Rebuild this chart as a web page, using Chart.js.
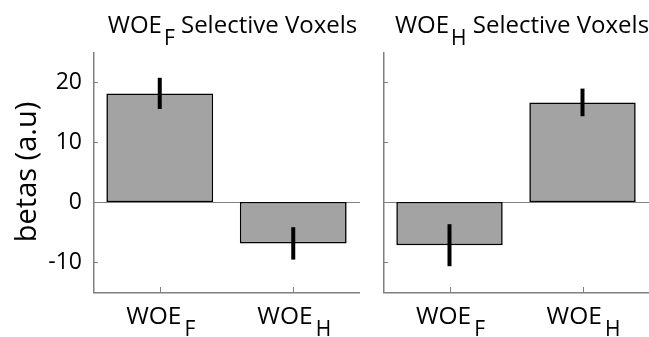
<!DOCTYPE html>
<html>
<head>
<meta charset="utf-8">
<script src="https://cdn.jsdelivr.net/npm/chart.js@4/dist/chart.umd.min.js"></script>
<style>
html,body{margin:0;padding:0;background:#fff;}
#wrap{position:relative;width:649px;height:337px;overflow:hidden;}
canvas{position:absolute;top:0;}
</style>
</head>
<body>
<div id="wrap">
<canvas id="c1" width="370" height="337" style="left:0px"></canvas>
<canvas id="c2" width="279" height="337" style="left:370px"></canvas>
</div>
<script>
// ---- data ----
const categories = [["WOE","F"],["WOE","H"]];
const leftTitle = ["WOE","F"," Selective Voxels"];
const rightTitle = ["WOE","H"," Selective Voxels"];
const leftValues = [18.1, -6.9];
const leftErrors = [2.6, 2.7];
const rightValues = [-7.2, 16.6];
const rightErrors = [3.5, 2.3];
const yTicks = [-10, 0, 10, 20];
const yMin = -15, yMax = 25;
const yLabel = "betas (a.u)";

const FONT = "'Open Sans', 'Noto Sans', sans-serif";
const AXIS_COLOR = "#808080";
const BAR_COLOR = "#a3a3a3";

function drawSubText(ctx, parts, cx, baseline, size, subSize, subDy, subGap) {
  ctx.save();
  ctx.fillStyle = "#000";
  ctx.textBaseline = "alphabetic";
  ctx.textAlign = "left";
  ctx.font = size + "px " + FONT;
  const w0 = ctx.measureText(parts[0]).width;
  const w2 = parts[2] ? ctx.measureText(parts[2]).width : 0;
  ctx.font = subSize + "px " + FONT;
  const w1 = ctx.measureText(parts[1]).width;
  const total = w0 + subGap + w1 + w2;
  let x = cx - total / 2;
  ctx.font = size + "px " + FONT;
  ctx.fillText(parts[0], x, baseline);
  x += w0 + subGap;
  ctx.font = subSize + "px " + FONT;
  ctx.fillText(parts[1], x, baseline + subDy);
  x += w1;
  if (parts[2]) {
    ctx.font = size + "px " + FONT;
    ctx.fillText(parts[2], x, baseline);
  }
  ctx.restore();
}

function makePlugin(title, errors, showYLabel) {
  return {
    id: "custom",
    beforeDatasetsDraw(chart) {
      const ctx = chart.ctx, a = chart.chartArea, ys = chart.scales.y;
      const y0 = Math.round(ys.getPixelForValue(0)) + 0.5;
      ctx.save();
      ctx.strokeStyle = AXIS_COLOR;
      ctx.lineWidth = 1;
      ctx.beginPath();
      ctx.moveTo(a.left, y0);
      ctx.lineTo(a.right, y0);
      ctx.stroke();
      ctx.restore();
    },
    afterDatasetsDraw(chart) {
      const ctx = chart.ctx, a = chart.chartArea, ys = chart.scales.y, xs = chart.scales.x;
      const meta = chart.getDatasetMeta(0);
      const vals = chart.data.datasets[0].data;
      ctx.save();
      // error bars
      ctx.strokeStyle = "#000";
      ctx.lineWidth = 4;
      meta.data.forEach((el, i) => {
        const yt = ys.getPixelForValue(vals[i] + errors[i]);
        const yb = ys.getPixelForValue(vals[i] - errors[i]);
        ctx.beginPath();
        ctx.moveTo(el.x, yt);
        ctx.lineTo(el.x, yb);
        ctx.stroke();
      });
      // axes
      ctx.strokeStyle = AXIS_COLOR;
      ctx.lineWidth = 1.5;
      ctx.beginPath();
      ctx.moveTo(a.left + 0.75, a.top);
      ctx.lineTo(a.left + 0.75, a.bottom + 0.75);
      ctx.lineTo(a.right, a.bottom + 0.75);
      ctx.stroke();
      // inward ticks
      ctx.lineWidth = 1;
      ctx.beginPath();
      yTicks.forEach(t => {
        const y = Math.round(ys.getPixelForValue(t)) + 0.5;
        ctx.moveTo(a.left, y);
        ctx.lineTo(a.left + 5, y);
      });
      categories.forEach((c, i) => {
        const x = Math.round(xs.getPixelForValue(i)) + 0.5;
        ctx.moveTo(x, a.bottom);
        ctx.lineTo(x, a.bottom - 5);
      });
      ctx.stroke();
      ctx.restore();
      // category labels
      categories.forEach((c, i) => {
        drawSubText(ctx, [c[0], c[1]], xs.getPixelForValue(i) + 1, 323.5, 24.5, 21, 12, 3);
      });
      // title
      drawSubText(ctx, title, (a.left + a.right) / 2 + 6, 33, 24, 21, 11.5, 2);
      // y label
      if (showYLabel) {
        ctx.save();
        ctx.fillStyle = "#000";
        ctx.font = "29px " + FONT;
        ctx.textAlign = "center";
        ctx.textBaseline = "alphabetic";
        ctx.translate(36, (a.top + a.bottom) / 2);
        ctx.rotate(-Math.PI / 2);
        ctx.fillText(yLabel, 0, 0);
        ctx.restore();
      }
    }
  };
}

function makeChart(id, values, errors, title, yWidth, rightPad, showTickLabels, showYLabel) {
  return new Chart(document.getElementById(id), {
    type: "bar",
    data: {
      labels: categories.map(c => c[0] + c[1]),
      datasets: [{
        data: values,
        backgroundColor: BAR_COLOR,
        borderColor: "#000",
        borderWidth: 1.6,
        borderSkipped: false,
        barPercentage: 0.8,
        categoryPercentage: 1.0
      }]
    },
    options: {
      responsive: false,
      animation: false,
      devicePixelRatio: 1,
      layout: { padding: { left: 0, right: rightPad, top: 52, bottom: 0 } },
      plugins: { legend: { display: false }, tooltip: { enabled: false }, title: { display: false } },
      scales: {
        x: {
          type: "category",
          offset: true,
          grid: { display: false, drawTicks: false },
          border: { display: false },
          ticks: { display: false },
          afterFit(s) { s.height = 45; }
        },
        y: {
          min: yMin, max: yMax,
          grid: { display: false, drawTicks: false },
          border: { display: false },
          ticks: {
            display: showTickLabels,
            padding: 11,
            color: "#000",
            font: { family: FONT, size: 23 }
          },
          afterBuildTicks(s) { s.ticks = yTicks.map(v => ({ value: v })); },
          afterFit(s) { s.width = yWidth; }
        }
      }
    },
    plugins: [makePlugin(title, errors, showYLabel)]
  });
}

makeChart("c1", leftValues, leftErrors, leftTitle, 93, 10, true, true);
makeChart("c2", rightValues, rightErrors, rightTitle, 13, 0, false, false);
</script>
</body>
</html>
